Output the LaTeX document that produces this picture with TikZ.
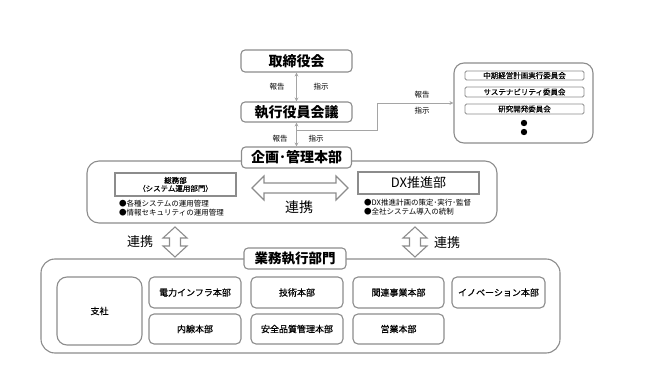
\documentclass[tikz,border=0pt]{standalone}
\usepackage{fontspec}
\setmainfont{Noto Sans CJK JP}
\newfontfamily\medfont{Noto Sans CJK JP}[FakeBold=0.5]
\usetikzlibrary{arrows.meta}
\definecolor{bx}{RGB}{140,140,140}
\definecolor{ln}{RGB}{165,165,165}
\newcommand{\fs}[1]{\fontsize{#1}{#1}\selectfont}
\begin{document}
\begin{tikzpicture}[x=1pt,y=-1pt,
  box/.style={draw=bx, line width=1.1pt, rounded corners=4pt, fill=white, inner sep=0pt},
  bigbox/.style={draw=bx, line width=1.1pt, rounded corners=12pt, fill=white, inner sep=0pt},
  sqbox/.style={draw=bx, line width=1.1pt, fill=white, inner sep=0pt},
  combox/.style={draw=bx, line width=0.9pt, rounded corners=1.5pt, fill=white, inner sep=0pt, minimum width=119, font=\medfont\fs{7.5}},
  unit/.style={box, rounded corners=5pt, font=\medfont\fs{9}},
  head/.style={font=\bfseries\fs{14}},
  lbl/.style={font=\fs{7.5}, inner sep=0pt},
  bul/.style={font=\fs{7.5}, align=left, inner sep=0pt, anchor=north west},
  conn/.style={draw=ln, line width=1pt, -{Stealth[length=4pt,width=4pt]}},
  dconn/.style={draw=ln, line width=1pt, {Stealth[length=4pt,width=4pt]}-{Stealth[length=4pt,width=4pt]}},
  blk/.style={draw=bx, line width=1.1pt, fill=white, line join=miter}
]
\useasboundingbox (0,0) rectangle (656,369);

% top
\node[box, head, minimum width=111, minimum height=22] (tori) at (296.5,61) {取締役会};
\node[box, head, minimum width=111, minimum height=20] (exec) at (296.5,112) {執行役員会議};
\draw[dconn] (tori.south) -- (exec.north);
\node[lbl] (h1) at (277,87) {報告};
\node[lbl] (s1) at (321,87) {指示};

% planning group
\node[bigbox, minimum width=410, minimum height=62] (grp1) at (292,192) {};
\node[box, head, minimum width=110, minimum height=21] (kikaku) at (296.5,157.5) {企画･管理本部};
\draw[dconn] (exec.south) -- (kikaku.north);
\node[lbl] (h2) at (280,139) {報告};
\node[lbl] (s2) at (316,139) {指示};

% committees
\node[bigbox, rounded corners=10pt, minimum width=139, minimum height=80] (com) at (523.5,103) {};
\node[combox, minimum height=9] (c1) at (524.5,75.5) {中期経営計画実行委員会};
\node[combox, minimum height=10] (c2) at (524.5,92) {サステナビリティ委員会};
\node[combox, minimum height=10] (c3) at (524.5,109) {研究開発委員会};
\fill (524,123) circle (3.2);
\fill (524,132) circle (3.2);
\coordinate (br) at (exec.south |- 0,130);
\coordinate (bend) at (377,130);
\draw[conn] (br) -- (bend) |- (com.west |- 0,103);
\node[lbl] (h3) at (422,95) {報告};
\node[lbl] (s3) at (422,111) {指示};

% inside planning group
\node[sqbox, minimum width=121, minimum height=23, align=center, font=\medfont\fs{7.5}] (soumu) at (175.5,184.5) {総務部\\[0.5pt]（システム運用部門）};
\node[bul] (b1) at (119,200) {●各種システムの運用管理\\[1.3pt]●情報セキュリティの運用管理};
\node[sqbox, minimum width=121, minimum height=22, font=\fs{13}] (dx) at (418.5,183) {DX推進部};
\node[bul] (b2) at (364,199) {●DX推進計画の策定･実行･監督\\[1.3pt]●全社システム導入の統制};
\draw[blk] (252,188) -- (264,176) -- (264,183) -- (336,183) -- (336,176) -- (348,188)
  -- (336,200) -- (336,193) -- (264,193) -- (264,200) -- cycle;
\node[font=\fs{14}] (r1) at (299,207) {連携};

% vertical collaboration arrows
\draw[blk] (175,227) -- (187,238) -- (180.5,238) -- (180.5,246) -- (187,246) -- (175,257)
  -- (163,246) -- (169.5,246) -- (169.5,238) -- (163,238) -- cycle;
\node[font=\fs{13}] (r2) at (140,242) {連携};
\draw[blk] (415,227) -- (427,238) -- (420.5,238) -- (420.5,246) -- (427,246) -- (415,257)
  -- (403,246) -- (409.5,246) -- (409.5,238) -- (403,238) -- cycle;
\node[font=\fs{13}] (r3) at (447,243) {連携};

% operations group
\node[bigbox, rounded corners=14pt, minimum width=519, minimum height=94] (grp2) at (300.5,306) {};
\node[box, head, font=\bfseries\fs{13.5}, minimum width=102, minimum height=21] (gyomu) at (295,258.5) {業務執行部門};
\node[unit, rounded corners=10pt, minimum width=85, minimum height=68] (shisha) at (99.5,311) {支社};
\node[unit, minimum width=92, minimum height=31] (u1) at (195,292.5) {電力インフラ本部};
\node[unit, minimum width=92, minimum height=31] (u2) at (297,292.5) {技術本部};
\node[unit, minimum width=91, minimum height=31] (u3) at (398.5,292.5) {関連事業本部};
\node[unit, minimum width=93, minimum height=31] (u4) at (498.5,292.5) {イノベーション本部};
\node[unit, minimum width=92, minimum height=30] (u5) at (195,329) {内線本部};
\node[unit, minimum width=92, minimum height=30] (u6) at (297,329) {安全品質管理本部};
\node[unit, minimum width=91, minimum height=30] (u7) at (398.5,329) {営業本部};
\end{tikzpicture}
\end{document}
